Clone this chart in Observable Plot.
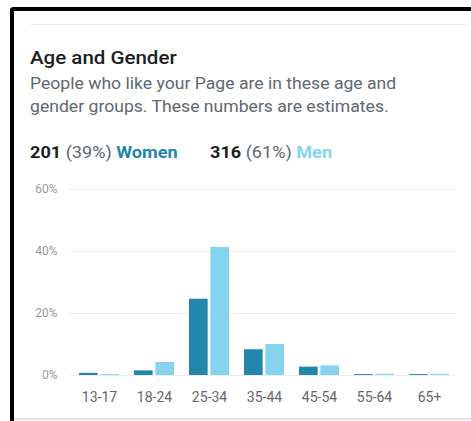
<!DOCTYPE html>
<html>
<head>
<meta charset="utf-8">
<script src="https://cdn.jsdelivr.net/npm/d3@7"></script>
<script src="https://cdn.jsdelivr.net/npm/@observablehq/plot@0.6"></script>
<style>
  html, body { margin: 0; padding: 0; background: #fff; width: 471px; height: 421px; overflow: hidden; font-family: Roboto, "Noto Sans", sans-serif; }
  .frame { position: absolute; left: 10px; top: 7px; width: 480px; height: 430px; border-top: 4px solid #000; border-left: 4px solid #000; border-top-left-radius: 4px; box-sizing: border-box; }
  .topline { position: absolute; left: 30px; top: 24px; width: 436px; height: 1px; background: #ececec; }
  .bottomline { position: absolute; left: 14px; top: 418px; width: 457px; height: 2px; background: #e4e4e4; }
  .title { position: absolute; left: 30px; top: 48px; font-size: 19px; line-height: 19px; font-weight: 500; color: #1c1e21; white-space: nowrap; transform: scaleX(1.08); transform-origin: 0 0; }
  .subtitle { position: absolute; left: 30px; top: 71.7px; font-size: 17px; line-height: 23px; color: #606770; white-space: nowrap; transform: scaleX(1.035); transform-origin: 0 0; }
  .legend { position: absolute; top: 141.7px; font-size: 17px; line-height: 20px; white-space: nowrap; transform: scaleX(1.065); transform-origin: 0 0; }
  .legend b { color: #1c1e21; font-weight: 700; }
  .legend .pct { color: #606770; }
  .legend .lab { font-weight: 700; }
  #chart { position: absolute; left: 0; top: 170px; }
</style>
</head>
<body>
<div class="frame"></div>
<div class="topline"></div>
<div class="title">Age and Gender</div>
<div class="subtitle">People who like your Page are in these age and<br>gender groups. These numbers are estimates.</div>
<div id="legend"></div>
<div class="bottomline"></div>
<div id="chart"></div>
<script>
const ages = ["13-17", "18-24", "25-34", "35-44", "45-54", "55-64", "65+"];
const women = [0.7, 1.5, 24.6, 8.3, 2.7, 0.3, 0.3];
const men = [0.3, 4.2, 41.3, 10.0, 3.1, 0.4, 0.4];
const yTicks = [0, 20, 40, 60];
const seriesNames = ["Women", "Men"];
const seriesCounts = [201, 316];
const seriesShares = [39, 61];
const seriesColors = ["#2386ad", "#86d3ee"];
const legendLeft = [30, 210];

// legend
const legend = document.getElementById("legend");
seriesNames.forEach((name, i) => {
  const d = document.createElement("div");
  d.className = "legend";
  d.style.left = legendLeft[i] + "px";
  d.innerHTML = `<b>${seriesCounts[i]}</b> <span class="pct">(${seriesShares[i]}%)</span> <span class="lab" style="color:${seriesColors[i]}">${name}</span>`;
  legend.appendChild(d);
});

const rows = ages.flatMap((a, i) => [
  {age: a, gender: "Women", value: women[i]},
  {age: a, gender: "Men", value: men[i]}
]);

const bw = 40, gap = 2.7, half = (bw + gap) / 2;

const chart = Plot.plot({
  width: 471,
  height: 240,
  marginLeft: 70,
  marginRight: 14,
  marginTop: 19,
  marginBottom: 35,
  style: {fontFamily: "Roboto, sans-serif", background: "transparent"},
  x: {domain: ages, paddingInner: 0.275, paddingOuter: 0.143, axis: null},
  y: {domain: [0, 60], axis: null},
  marks: [
    Plot.ruleY(yTicks, {stroke: "#ececec", strokeWidth: 1}),
    Plot.barY(rows.filter(d => d.gender === "Women"), {x: "age", y: "value", fill: seriesColors[0], insetRight: half}),
    Plot.barY(rows.filter(d => d.gender === "Men"), {x: "age", y: "value", fill: seriesColors[1], insetLeft: half}),
    Plot.axisY({ticks: yTicks, tickFormat: d => d + "%", tickSize: 0, tickPadding: 13, fontSize: 12, color: "#9a9a9a", label: null}),
    Plot.axisX({tickSize: 0, tickPadding: 17, fontSize: 14, color: "#666", label: null})
  ]
});
document.getElementById("chart").appendChild(chart);
</script>
</body>
</html>
